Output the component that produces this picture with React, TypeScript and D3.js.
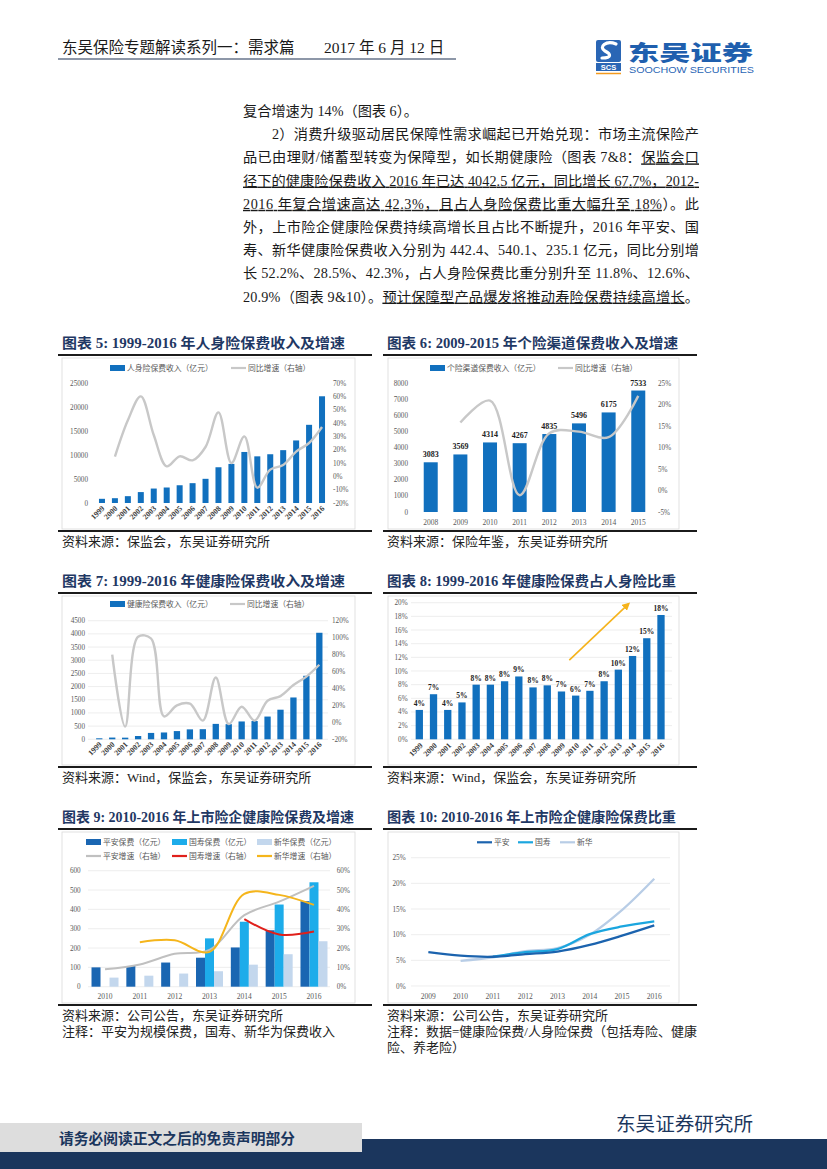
import React from "react";
import * as d3 from "d3";

const SERIF = "'Liberation Serif','Noto Sans CJK SC',serif";
const SANS = "'Noto Sans CJK SC','Liberation Sans',sans-serif";
const NAVY = "#1F3864";
const BLUE = "#1170BE";
const AXIS = "#595959";
const GRAYLINE = "#C8C8C8";

// ---------- Data ----------
const years99 = ["1999","2000","2001","2002","2003","2004","2005","2006","2007","2008","2009","2010","2011","2012","2013","2014","2015","2016"];
const lifePremium = [872, 1000, 1424, 2274, 3011, 3228, 3697, 4132, 5038, 7447, 8144, 10632, 9721, 10157, 11010, 13031, 16288, 22235];
const lifeGrowth: (number | null)[] = [null, 14.7, 42, 60, 31, 7.5, 15, 12, 22, 48, 10, 30, -8.5, 5, 8.5, 18.5, 25, 37];
const lifeLeftTicks = [0, 5000, 10000, 15000, 20000, 25000];
const lifeRightTicks = [-20, -10, 0, 10, 20, 30, 40, 50, 60, 70];

const agentYears = ["2008","2009","2010","2011","2012","2013","2014","2015"];
const agentPremium = [3083, 3569, 4314, 4267, 4835, 5496, 6175, 7533];
const agentGrowth: (number | null)[] = [null, 15.8, 20.9, -1.1, 13.3, 13.7, 12.4, 22.0];
const agentLeftTicks = [0, 1000, 2000, 3000, 4000, 5000, 6000, 7000, 8000];
const agentRightTicks = [-5, 0, 5, 10, 15, 20, 25];

const healthPremium = [38, 66, 62, 125, 242, 259, 312, 377, 384, 585, 574, 677, 692, 863, 1123, 1587, 2410, 4042];
const healthGrowth: (number | null)[] = [null, 80, -5, 101, 99, 7, 20, 22, 2, 53, -2, 18.5, 2, 25.5, 31, 44, 54, 68];
const healthLeftTicks = [0, 500, 1000, 1500, 2000, 2500, 3000, 3500, 4000, 4500];
const healthRightTicks = [-20, 0, 20, 40, 60, 80, 100, 120];

const healthShare = [4.3, 6.6, 4.3, 5.4, 8.0, 8.0, 8.5, 9.2, 7.6, 7.9, 7.0, 6.4, 7.1, 8.5, 10.2, 12.2, 14.8, 18.2];
const healthShareLabels = ["4%","7%","4%","5%","8%","8%","8%","9%","8%","8%","7%","6%","7%","8%","10%","12%","15%","18%"];
const shareTicks = [0, 2, 4, 6, 8, 10, 12, 14, 16, 18, 20];
const arrowFrom = [10.55, 11.6]; // [category index, %]
const arrowTo = [14.7, 19.8];

const listedYears = ["2010","2011","2012","2013","2014","2015","2016"];
const pinganPremium: (number | null)[] = [100, 107, 125, 150, 203, 292, 442.4];
const guoshouPremium: (number | null)[] = [null, null, null, 250, 336, 425, 540.1];
const xinhuaPremium: (number | null)[] = [47, 57, 68, 80, 114, 168, 235.1];
const pinganGrowth: (number | null)[] = [9, 11.5, 17, 19, 37, 44, 52.2];
const guoshouGrowth: (number | null)[] = [null, null, null, null, 35, 27, 28.5];
const xinhuaGrowth: (number | null)[] = [null, 23, 24, 18, 48, 47.5, 42.3];
const listedLeftTicks = [0, 100, 200, 300, 400, 500, 600];
const listedRightTicks = [0, 10, 20, 30, 40, 50, 60];

const ratioYears = ["2009","2010","2011","2012","2013","2014","2015","2016"];
const pinganRatio: (number | null)[] = [6.6, 5.9, 5.7, 6.2, 6.7, 8.0, 9.8, 11.8];
const guoshouRatio: (number | null)[] = [null, null, 5.7, 6.6, 7.2, 10.1, 11.6, 12.6];
const xinhuaRatio: (number | null)[] = [null, 4.9, 5.6, 6.8, 7.4, 10.0, 14.8, 20.9];
const ratioTicks = [0, 5, 10, 15, 20, 25];

type Seg = { t: string; u?: boolean };
const paragraph: { x: number; justify: boolean; segs: Seg[] }[] = [
  { x: 243, justify: false, segs: [{ t: "复合增速为 14%（图表 6）。" }] },
  { x: 272, justify: true, segs: [{ t: "2）消费升级驱动居民保障性需求崛起已开始兑现：市场主流保险产" }] },
  { x: 243, justify: true, segs: [{ t: "品已由理财/储蓄型转变为保障型，如长期健康险（图表 7&8：" }, { t: "保监会口", u: true }] },
  { x: 243, justify: true, segs: [{ t: "径下的健康险保费收入 2016 年已达 4042.5 亿元，同比增长 67.7%，2012-", u: true }] },
  { x: 243, justify: true, segs: [{ t: "2016 年复合增速高达 42.3%，且占人身险保费比重大幅升至 18%", u: true }, { t: "）。此" }] },
  { x: 243, justify: true, segs: [{ t: "外，上市险企健康险保费持续高增长且占比不断提升，2016 年平安、国" }] },
  { x: 243, justify: true, segs: [{ t: "寿、新华健康险保费收入分别为 442.4、540.1、235.1 亿元，同比分别增" }] },
  { x: 243, justify: true, segs: [{ t: "长 52.2%、28.5%、42.3%，占人身险保费比重分别升至 11.8%、12.6%、" }] },
  { x: 243, justify: true, segs: [{ t: "20.9%（图表 9&10）。" }, { t: "预计保障型产品爆发将推动寿险保费持续高增长", u: true }, { t: "。" }] },
];

// ---------- helpers ----------
type Pt = [number, number];
const smoothLine = d3.line<Pt>().x((d) => d[0]).y((d) => d[1]).curve(d3.curveCatmullRom.alpha(0.5));

function points(cats: string[], vals: (number | null)[], xc: (c: string) => number, y: (v: number) => number): Pt[] {
  const out: Pt[] = [];
  vals.forEach((v, i) => {
    if (v !== null) out.push([xc(cats[i]), y(v)]);
  });
  return out;
}

function Frame(props: { left: boolean; top: number; bottom: number; title: string; titleW: number; sources: string[] }) {
  const { left, top, bottom, title, titleW, sources } = props;
  const x0 = left ? 58 : 383;
  const x1 = left ? 372 : 697;
  const bx0 = left ? 62 : 388;
  const bx1 = left ? 355 : 679;
  return (
    <g>
      <text x={x0 + 4} y={top - 7} fontFamily={SERIF} fontWeight={700} fontSize={14} fill={NAVY} textLength={titleW} lengthAdjust="spacingAndGlyphs">
        {title}
      </text>
      <line x1={x0} x2={x1} y1={top} y2={top} stroke="#1b1b1b" strokeWidth={2} />
      <rect x={bx0} y={top + 3} width={bx1 - bx0} height={bottom - top - 5} fill="#fff" stroke="#D9D9D9" strokeWidth={0.8} />
      <line x1={x0} x2={x1} y1={bottom} y2={bottom} stroke="#1b1b1b" strokeWidth={2} />
      {sources.map((s, i) => (
        <text key={i} x={x0 + 4} y={bottom + 15 + i * 16} fontFamily={SERIF} fontSize={13} fill="#222">
          {s}
        </text>
      ))}
    </g>
  );
}

function LegendBar(p: { x: number; y: number; color: string; label: string }) {
  return (
    <g>
      <rect x={p.x} y={p.y - 3} width={15} height={6} fill={p.color} />
      <text x={p.x + 17} y={p.y + 3} fontFamily={SANS} fontSize={7.8} fill={AXIS}>{p.label}</text>
    </g>
  );
}
function LegendLine(p: { x: number; y: number; color: string; label: string }) {
  return (
    <g>
      <line x1={p.x} x2={p.x + 15} y1={p.y} y2={p.y} stroke={p.color} strokeWidth={2.2} />
      <text x={p.x + 17} y={p.y + 3} fontFamily={SANS} fontSize={7.8} fill={AXIS}>{p.label}</text>
    </g>
  );
}

function LeftTicks(p: { ticks: number[]; y: (v: number) => number; x: number; fmt?: (v: number) => string }) {
  return (
    <g>
      {p.ticks.map((t) => (
        <text key={t} x={p.x} y={p.y(t) + 2.5} textAnchor="end" fontFamily={SERIF} fontSize={7.2} fill={AXIS}>
          {p.fmt ? p.fmt(t) : String(t)}
        </text>
      ))}
    </g>
  );
}
function RightTicks(p: { ticks: number[]; y: (v: number) => number; x: number }) {
  return (
    <g>
      {p.ticks.map((t) => (
        <text key={t} x={p.x} y={p.y(t) + 2.5} textAnchor="start" fontFamily={SERIF} fontSize={7.2} fill={AXIS}>
          {t + "%"}
        </text>
      ))}
    </g>
  );
}
function Grid(p: { ticks: number[]; y: (v: number) => number; x0: number; x1: number }) {
  return (
    <g>
      {p.ticks.map((t) => (
        <line key={t} x1={p.x0} x2={p.x1} y1={p.y(t)} y2={p.y(t)} stroke="#E6E6E6" strokeWidth={0.7} />
      ))}
    </g>
  );
}

// ---------- Chart 5 ----------
function Chart5() {
  const x = d3.scaleBand().domain(years99).range([95.5, 328.5]);
  const xc = (c: string) => (x(c) as number) + x.bandwidth() / 2;
  const y = d3.scaleLinear().domain([0, 25000]).range([503, 383]);
  const yr = d3.scaleLinear().domain([-20, 70]).range([503, 383]);
  const bw = 6;
  return (
    <g>
      <Frame left top={355} bottom={531} title="图表 5:  1999-2016 年人身险保费收入及增速" titleW={283} sources={["资料来源：保监会，东吴证券研究所"]} />
      <LegendBar x={110} y={368} color={BLUE} label="人身险保费收入（亿元）" />
      <LegendLine x={231} y={368} color={GRAYLINE} label="同比增速（右轴）" />
      <LeftTicks ticks={lifeLeftTicks} y={y} x={88} />
      <RightTicks ticks={lifeRightTicks} y={yr} x={333} />
      {years99.map((c, i) => (
        <rect key={c} x={xc(c) - bw / 2} y={y(lifePremium[i])} width={bw} height={y(0) - y(lifePremium[i])} fill={BLUE} />
      ))}
      <path d={smoothLine(points(years99, lifeGrowth, xc, yr)) || ""} fill="none" stroke={GRAYLINE} strokeWidth={2.4} />
      {years99.map((c) => (
        <text key={c} transform={`translate(${xc(c) + 3},${509}) rotate(-45)`} textAnchor="end" fontFamily={SERIF} fontSize={7.8} fontWeight={700} fill="#404040">{c}</text>
      ))}
    </g>
  );
}

// ---------- Chart 6 ----------
function Chart6() {
  const x = d3.scaleBand().domain(agentYears).range([415.9, 653.1]);
  const xc = (c: string) => (x(c) as number) + x.bandwidth() / 2;
  const y = d3.scaleLinear().domain([0, 8000]).range([512, 383]);
  const yr = d3.scaleLinear().domain([-5, 25]).range([512, 383]);
  const bw = 14;
  return (
    <g>
      <Frame left={false} top={355} bottom={531} title="图表 6: 2009-2015 年个险渠道保费收入及增速" titleW={291} sources={["资料来源：保险年鉴，东吴证券研究所"]} />
      <LegendBar x={430} y={368} color={BLUE} label="个险渠道保费收入（亿元）" />
      <LegendLine x={558} y={368} color={GRAYLINE} label="同比增速（右轴）" />
      <LeftTicks ticks={agentLeftTicks} y={y} x={408} />
      <RightTicks ticks={agentRightTicks} y={yr} x={658} />
      {agentYears.map((c, i) => (
        <g key={c}>
          <rect x={xc(c) - bw / 2} y={y(agentPremium[i])} width={bw} height={y(0) - y(agentPremium[i])} fill={BLUE} />
          <text x={xc(c)} y={y(agentPremium[i]) - 5} textAnchor="middle" fontFamily={SERIF} fontWeight={700} fontSize={8} fill="#222">{agentPremium[i]}</text>
          <text x={xc(c)} y={525} textAnchor="middle" fontFamily={SERIF} fontSize={7.5} fill={AXIS}>{c}</text>
        </g>
      ))}
      <path d={smoothLine(points(agentYears, agentGrowth, xc, yr)) || ""} fill="none" stroke={GRAYLINE} strokeWidth={2.4} />
    </g>
  );
}

// ---------- Chart 7 ----------
function Chart7() {
  const x = d3.scaleBand().domain(years99).range([92.8, 325.8]);
  const xc = (c: string) => (x(c) as number) + x.bandwidth() / 2;
  const y = d3.scaleLinear().domain([0, 4500]).range([739.3, 620.7]);
  const yr = d3.scaleLinear().domain([-20, 120]).range([739.3, 620.7]);
  const bw = 6.3;
  return (
    <g>
      <Frame left top={593} bottom={767} title="图表 7:  1999-2016 年健康险保费收入及增速" titleW={283} sources={["资料来源：Wind，保监会，东吴证券研究所"]} />
      <LegendBar x={110} y={604} color={BLUE} label="健康险保费收入（亿元）" />
      <LegendLine x={230} y={604} color={GRAYLINE} label="同比增速（右轴）" />
      <Grid ticks={healthLeftTicks} y={y} x0={88} x1={328} />
      <LeftTicks ticks={healthLeftTicks} y={y} x={85} />
      <RightTicks ticks={healthRightTicks} y={yr} x={332} />
      {years99.map((c, i) => (
        <rect key={c} x={xc(c) - bw / 2} y={y(healthPremium[i])} width={bw} height={y(0) - y(healthPremium[i])} fill={BLUE} />
      ))}
      <path d={smoothLine(points(years99, healthGrowth, xc, yr)) || ""} fill="none" stroke={GRAYLINE} strokeWidth={2.4} />
      {years99.map((c) => (
        <text key={c} transform={`translate(${xc(c) + 3},${745}) rotate(-45)`} textAnchor="end" fontFamily={SERIF} fontSize={7.8} fontWeight={700} fill="#404040">{c}</text>
      ))}
    </g>
  );
}

// ---------- Chart 8 ----------
function Chart8() {
  const x = d3.scaleBand().domain(years99).range([412.2, 668.1]);
  const xc = (c: string) => (x(c) as number) + x.bandwidth() / 2;
  const xi = d3.scaleLinear().domain([0, years99.length - 1]).range([xc(years99[0]), xc(years99[years99.length - 1])]);
  const y = d3.scaleLinear().domain([0, 20]).range([739.3, 602.7]);
  const bw = 7.3;
  const ax1 = xi(arrowFrom[0]), ay1 = y(arrowFrom[1]), ax2 = xi(arrowTo[0]), ay2 = y(arrowTo[1]);
  return (
    <g>
      <Frame left={false} top={593} bottom={767} title="图表 8: 1999-2016 年健康险保费占人身险比重" titleW={289} sources={["资料来源：Wind，保监会，东吴证券研究所"]} />
      <defs>
        <marker id="arr" viewBox="0 0 10 10" refX="7" refY="5" markerWidth="5" markerHeight="5" orient="auto">
          <path d="M0,0 L10,5 L0,10 z" fill="#F5B31C" />
        </marker>
      </defs>
      <Grid ticks={shareTicks} y={y} x0={411} x1={672} />
      <LeftTicks ticks={shareTicks} y={y} x={407.7} fmt={(v) => v + "%"} />
      {years99.map((c, i) => (
        <g key={c}>
          <rect x={xc(c) - bw / 2} y={y(healthShare[i])} width={bw} height={y(0) - y(healthShare[i])} fill={BLUE} />
          <text x={xc(c)} y={y(healthShare[i]) - 4} textAnchor="middle" fontFamily={SERIF} fontWeight={700} fontSize={7.5} fill="#222">{healthShareLabels[i]}</text>
          <text transform={`translate(${xc(c) + 4},${746}) rotate(-45)`} textAnchor="end" fontFamily={SERIF} fontSize={7.8} fontWeight={700} fill="#404040">{c}</text>
        </g>
      ))}
      <line x1={ax1} y1={ay1} x2={ax2} y2={ay2} stroke="#F5B31C" strokeWidth={1.6} markerEnd="url(#arr)" />
    </g>
  );
}

// ---------- Chart 9 ----------
function Chart9() {
  const x = d3.scaleBand().domain(listedYears).range([87.6, 331.4]);
  const xc = (c: string) => (x(c) as number) + x.bandwidth() / 2;
  const y = d3.scaleLinear().domain([0, 600]).range([986.7, 870.7]);
  const yr = d3.scaleLinear().domain([0, 60]).range([986.7, 870.7]);
  const bw = 9;
  const series = [
    { vals: pinganPremium, color: "#1A66B2", off: -9 },
    { vals: guoshouPremium, color: "#1DACEA", off: 0 },
    { vals: xinhuaPremium, color: "#C3D7ED", off: 9 },
  ];
  return (
    <g>
      <Frame left top={829} bottom={1005} title="图表 9: 2010-2016 年上市险企健康险保费及增速" titleW={292} sources={["资料来源：公司公告，东吴证券研究所", "注释：平安为规模保费，国寿、新华为保费收入"]} />
      <LegendBar x={86} y={842} color="#1A66B2" label="平安保费（亿元）" />
      <LegendBar x={172} y={842} color="#1DACEA" label="国寿保费（亿元）" />
      <LegendBar x={257} y={842} color="#C3D7ED" label="新华保费（亿元）" />
      <LegendLine x={86} y={856} color="#C0C0C0" label="平安增速（右轴）" />
      <LegendLine x={172} y={856} color="#E0201B" label="国寿增速（右轴）" />
      <LegendLine x={257} y={856} color="#F5B51B" label="新华增速（右轴）" />
      <Grid ticks={listedLeftTicks} y={y} x0={88} x1={330} />
      <LeftTicks ticks={listedLeftTicks} y={y} x={80.7} />
      <RightTicks ticks={listedRightTicks} y={yr} x={336.7} />
      {series.map((s, si) =>
        listedYears.map((c, i) => {
          const v = s.vals[i];
          if (v === null) return null;
          return <rect key={si + c} x={xc(c) + s.off - bw / 2} y={y(v)} width={bw} height={y(0) - y(v)} fill={s.color} />;
        })
      )}
      <path d={smoothLine(points(listedYears, pinganGrowth, xc, yr)) || ""} fill="none" stroke="#C0C0C0" strokeWidth={2} />
      <path d={smoothLine(points(listedYears, guoshouGrowth, xc, yr)) || ""} fill="none" stroke="#E0201B" strokeWidth={2} />
      <path d={smoothLine(points(listedYears, xinhuaGrowth, xc, yr)) || ""} fill="none" stroke="#F5B51B" strokeWidth={2} />
      {listedYears.map((c) => (
        <text key={c} x={xc(c)} y={999} textAnchor="middle" fontFamily={SERIF} fontSize={7.5} fill={AXIS}>{c}</text>
      ))}
    </g>
  );
}

// ---------- Chart 10 ----------
function Chart10() {
  const x = d3.scaleBand().domain(ratioYears).range([412.2, 670.4]);
  const xc = (c: string) => (x(c) as number) + x.bandwidth() / 2;
  const y = d3.scaleLinear().domain([0, 25]).range([986, 857.7]);
  const lines = [
    { vals: xinhuaRatio, color: "#B8CDE6" },
    { vals: guoshouRatio, color: "#1BA6DF" },
    { vals: pinganRatio, color: "#1B63AE" },
  ];
  return (
    <g>
      <Frame left={false} top={829} bottom={1005} title="图表 10:  2010-2016 年上市险企健康险保费比重" titleW={289} sources={["资料来源：公司公告，东吴证券研究所", "注释：数据=健康险保费/人身险保费（包括寿险、健康", "险、养老险）"]} />
      <LegendLine x={477} y={842.3} color="#1B63AE" label="平安" />
      <LegendLine x={518} y={842.3} color="#1BA6DF" label="国寿" />
      <LegendLine x={560} y={842.3} color="#B8CDE6" label="新华" />
      <Grid ticks={ratioTicks} y={y} x0={411} x1={670} />
      <LeftTicks ticks={ratioTicks} y={y} x={405.7} fmt={(v) => v + "%"} />
      {lines.map((l, i) => (
        <path key={i} d={smoothLine(points(ratioYears, l.vals, xc, y)) || ""} fill="none" stroke={l.color} strokeWidth={2.3} />
      ))}
      {ratioYears.map((c) => (
        <text key={c} x={xc(c)} y={999} textAnchor="middle" fontFamily={SERIF} fontSize={7.5} fill={AXIS}>{c}</text>
      ))}
    </g>
  );
}

// ---------- Page chrome ----------
function Header() {
  return (
    <g>
      <text x={62} y={53} fontFamily={SERIF} fontSize={15.5} fill="#1a1a1a">
        <tspan>东吴保险专题解读系列一：需求篇</tspan>
        <tspan x={324}>2017 年 6 月 12 日</tspan>
      </text>
      <line x1={58} x2={456} y1={59} y2={59} stroke="#8D97A8" strokeWidth={2} />
      {/* logo */}
      <rect x={596} y={40} width={25} height={22} rx={2} fill="#2A66B5" />
      <path d="M616,44 C606,40 598,47 605,51 C611,54 612,58 602,58" fill="none" stroke="#fff" strokeWidth={3.2} strokeLinecap="round" />
      <rect x={596} y={63} width={25} height={8} fill="#2A66B5" />
      <text x={608.5} y={70} textAnchor="middle" fontFamily="'Liberation Sans',sans-serif" fontWeight={700} fontSize={7.5} fill="#fff">SCS</text>
      <line x1={596} x2={621} y1={73.5} y2={73.5} stroke="#F39A1E" strokeWidth={1.5} />
      <text x={628} y={60} fontFamily={SANS} fontWeight={900} fontSize={21} fill="#1F5FAE" textLength={125} lengthAdjust="spacingAndGlyphs">东吴证券</text>
      <text x={629} y={73} fontFamily="'Liberation Sans',sans-serif" fontSize={9.5} fill="#2A66B5" textLength={125} lengthAdjust="spacingAndGlyphs">SOOCHOW SECURITIES</text>
    </g>
  );
}

function Paragraph() {
  return (
    <g>
      {paragraph.map((l, i) => {
        const props: any = {};
        if (l.justify) {
          props.textLength = 699 - l.x;
          props.lengthAdjust = "spacing";
        }
        return (
          <text key={i} x={l.x} y={116 + i * 23.2} fontFamily={SERIF} fontSize={14.2} fill="#1a1a1a" {...props}>
            {l.segs.map((s, j) => (
              <tspan key={j} style={s.u ? { textDecoration: "underline" } : undefined}>{s.t}</tspan>
            ))}
          </text>
        );
      })}
    </g>
  );
}

function Footer() {
  return (
    <g>
      <rect x={0} y={1123} width={362} height={30} fill="#DDDDDD" />
      <rect x={362} y={1139} width={465} height={30} fill="#1B365D" />
      <rect x={0} y={1152} width={362} height={17} fill="#1B365D" />
      <text x={59} y={1144} fontFamily={SERIF} fontWeight={700} fontSize={14.5} fill="#1B365D" textLength={236} lengthAdjust="spacingAndGlyphs">请务必阅读正文之后的免责声明部分</text>
      <text x={616} y={1131} fontFamily={SERIF} fontSize={19} fill="#1B365D" textLength={137} lengthAdjust="spacingAndGlyphs">东吴证券研究所</text>
    </g>
  );
}

export default function App() {
  return (
    <svg width={827} height={1169} viewBox="0 0 827 1169" style={{ position: "absolute", left: 0, top: 0, background: "#fff" }}>
      <rect x={0} y={0} width={827} height={1169} fill="#fff" />
      <Header />
      <Paragraph />
      <Chart5 />
      <Chart6 />
      <Chart7 />
      <Chart8 />
      <Chart9 />
      <Chart10 />
      <Footer />
    </svg>
  );
}
